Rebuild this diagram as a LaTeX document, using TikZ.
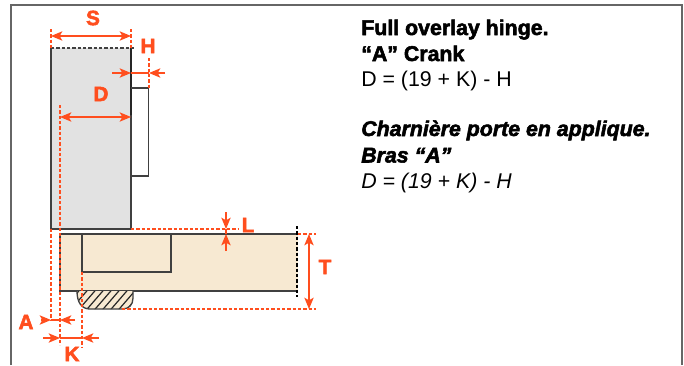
\documentclass[tikz,border=0pt]{standalone}
\usepackage{fontspec}
\setmainfont{Liberation Sans}
\newfontfamily\heavyfont[FakeBold=2.5]{Liberation Sans Bold}
\newfontfamily\heavyitfont[FakeBold=2.5]{Liberation Sans Bold Italic}
\usetikzlibrary{arrows.meta}
\definecolor{dimred}{HTML}{FF4E1E}
\definecolor{doorgray}{HTML}{E2E2E2}
\definecolor{woodtan}{HTML}{F7E9D2}
\tikzset{%
  outline/.style  = {draw=black!75, line width=1pt},%
  dimline/.style  = {draw=dimred, line width=1pt, {Stealth[length=8.5pt,width=7pt,inset=2pt]}-{Stealth[length=8.5pt,width=7pt,inset=2pt]}},%
  halfdim/.style  = {draw=dimred, line width=1pt, -{Stealth[length=8.5pt,width=7pt,inset=2pt]}},%
  witness/.style  = {draw=dimred, line width=0.8pt, dash pattern=on 2.4pt off 1.6pt},%
  dimlabel/.style = {text=dimred, font=\fontsize{15.5}{15.5}\heavyfont, inner sep=0pt},%
  heading/.style  = {anchor=base west, inner sep=0pt, font=\fontsize{16}{16}\heavyfont},%
  formula/.style  = {anchor=base west, inner sep=0pt, font=\fontsize{16}{16}\selectfont}%
}
\begin{document}
\begin{tikzpicture}[x=0.75pt,y=-0.75pt]
	\useasboundingbox (0,0) rectangle (684,365);
	% frame
	\draw [black!60, line width=1.1pt] (11,365) -- (11,5) -- (682,5) -- (682,365);
	% door
	\fill [doorgray] (51,48) rectangle (131,229);
	\draw [outline] (131,115) -- (131,229) -- (51,229) -- (51,48);
	\draw [black!85, line width=1.5pt] (131,48) -- (131,115);
	\draw [black!75, line width=1pt, dash pattern=on 2.4pt off 1.6pt] (51,48) -- (134,48);
	\draw [outline] (131,88) -- (148.5,88) -- (148.5,176) -- (131,176);
	% panel
	\fill [woodtan] (60,234) rectangle (298,291);
	\draw [outline] (298,291) -- (60,291) -- (60,234) -- (298,234);
	\draw [outline] (82,234) -- (82,272) -- (171,272) -- (171,234);
	\draw [black, line width=0.9pt, dash pattern=on 2.4pt off 1.6pt] (297,226) -- (297,297);
	% hatched bumper
	\begin{scope}
		\clip (77,291) .. controls (77,303) and (82,309) .. (90,309) -- (122,309)
			.. controls (129,309) and (133,305) .. (133,298) -- (133,291) -- cycle;
		\fill [woodtan] (70,285) rectangle (140,315);
		\foreach \hx in {50,58,...,146}
			\draw [black!85, line width=0.9pt] (\hx,315) -- (\hx+26,285);
	\end{scope}
	\draw [outline] (77,291) .. controls (77,303) and (82,309) .. (90,309) -- (122,309)
		.. controls (129,309) and (133,305) .. (133,298) -- (133,291);
	% witness lines
	\draw [witness] (51,29) -- (51,48);
	\draw [witness] (131,29) -- (131,48);
	\draw [witness] (149,58) -- (149,88);
	\draw [witness] (60,105) -- (60,345);
	\draw [witness] (51,229) -- (51,320);
	\draw [witness] (82,272) -- (82,348);
	\draw [witness] (131,229) -- (239,229);
	\draw [witness] (298,234) -- (316,234);
	\draw [witness] (122,309) -- (316,309);
	% dimensions
	\coordinate (sleft) at (51,36);
	\coordinate (sright) at (131,36);
	\coordinate (dleft) at (60,117);
	\coordinate (dright) at (131,117);
	\coordinate (ttop) at (309,234);
	\coordinate (tbot) at (309,309);
	\draw [dimline] (sleft) -- (sright);
	\draw [dimline] (dleft) -- (dright);
	\draw [dimline] (ttop) -- (tbot);
	\draw [halfdim] (112,73) -- (131,73);
	\draw [halfdim] (165,73) -- (149,73);
	\draw [dimred, line width=1pt] (131,73) -- (149,73);
	\draw [halfdim] (41,320) -- (51,320);
	\draw [halfdim] (75,320) -- (60,320);
	\draw [dimred, line width=1pt] (51,320) -- (60,320);
	\draw [halfdim] (43,338) -- (60,338);
	\draw [halfdim] (99,338) -- (82,338);
	\draw [dimred, line width=1pt] (60,338) -- (82,338);
	\draw [halfdim] (226,212) -- (226,229);
	\draw [halfdim] (226,251) -- (226,234);
	\draw [dimred, line width=1pt] (226,229) -- (226,234);
	% labels
	\node [dimlabel] (labS) at (93,18) {S};
	\node [dimlabel] (labH) at (148,46) {H};
	\node [dimlabel] (labD) at (101,94) {D};
	\node [dimlabel] (labL) at (248,225) {L};
	\node [dimlabel] (labT) at (325,267) {T};
	\node [dimlabel] (labA) at (26,322) {A};
	\node [dimlabel] (labK) at (72,354) {K};
	% text
	\node [heading] (head) at (361,35) {Full overlay hinge.};
	\node [heading] (crank) at (361,61) {“A” Crank};
	\node [formula] (rule) at (361,86) {D = (19 + K) - H};
	\node [heading, font=\fontsize{16}{16}\heavyitfont] (headfr) at (361,136) {Charnière porte en applique.};
	\node [heading, font=\fontsize{16}{16}\heavyitfont] (bras) at (361,162.5) {Bras “A”};
	\node [formula, font=\fontsize{16}{16}\itshape] (rulefr) at (361,188) {D = (19 + K) - H};
\end{tikzpicture}
\end{document}
